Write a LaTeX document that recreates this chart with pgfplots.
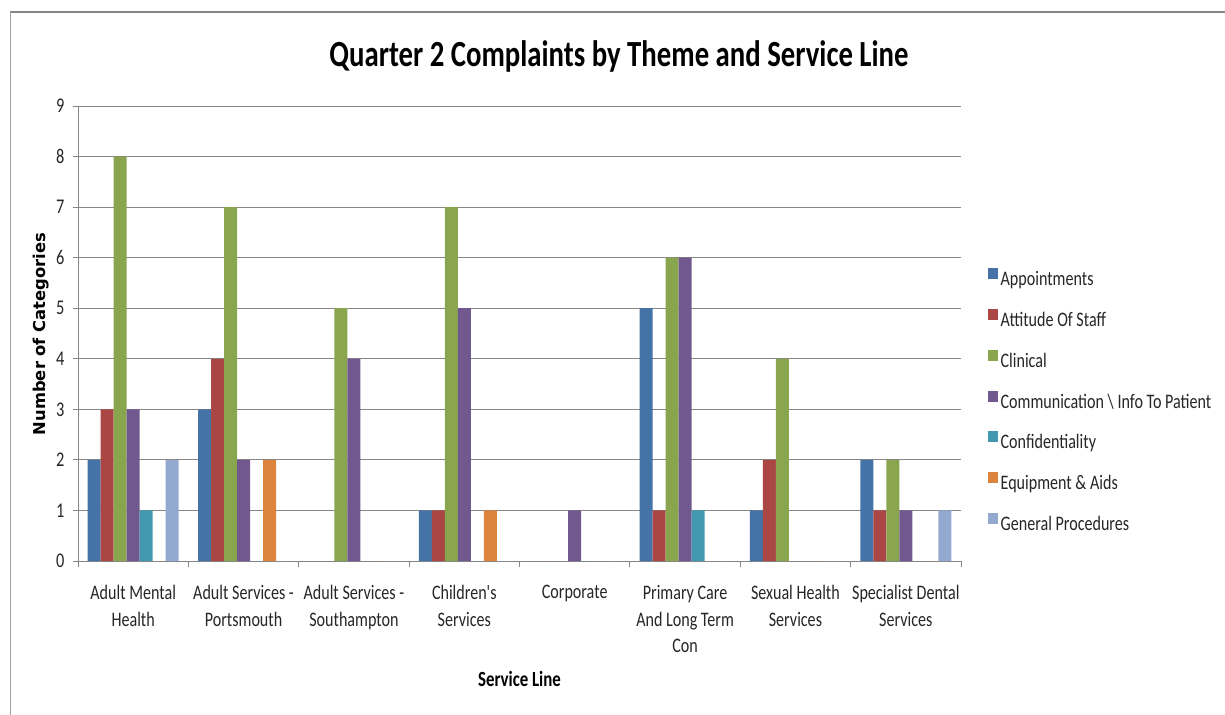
\documentclass[border=0pt]{standalone}
\usepackage{pgfplots}
\pgfplotsset{compat=1.18}
\usepackage{pgfplotstable}
\usepackage{fontspec}
\setmainfont{Carlito}
\newfontfamily\calfont[FakeStretch=0.78]{Carlito}
\newfontfamily\dvsfont{DejaVu Sans}
\definecolor{cA}{HTML}{4572A7}
\definecolor{cB}{HTML}{AA4643}
\definecolor{cC}{HTML}{89A54E}
\definecolor{cD}{HTML}{71588F}
\definecolor{cE}{HTML}{4198AF}
\definecolor{cF}{HTML}{DB843D}
\definecolor{cG}{HTML}{93A9CF}
\definecolor{gridc}{HTML}{868686}
\definecolor{txt}{HTML}{262626}
\pgfplotstableread{
x App Att Cli Com Con Equ Gen
0 2 3 8 3 1 0 2
1 3 4 7 2 0 2 0
2 0 0 5 4 0 0 0
3 1 1 7 5 0 1 0
4 0 0 0 1 0 0 0
5 5 1 6 6 1 0 0
6 1 2 4 0 0 0 0
7 2 1 2 1 0 0 1
}\datatab
\begin{document}
\begin{tikzpicture}
\useasboundingbox (0,0) rectangle (1225bp,-715bp);
\draw[gridc, line width=1.8bp] (10bp,-12bp) -- (1240bp,-12bp);
\draw[gridc!80, line width=1.5bp] (10.7bp,-12bp) -- (10.7bp,-730bp);
\begin{axis}[
  at={(78bp,-561bp)}, anchor=south west,
  scale only axis, width=883bp, height=455bp,
  xmin=-0.5, xmax=7.5, ymin=0, ymax=9,
  ybar=0pt, bar width=0.1178,
  axis x line*=bottom, axis y line*=left,
  axis line style={gridc, line width=1bp, -},
  ymajorgrids, grid style={gridc, line width=1bp},
  ytick={0,...,9},
  xtick={0,...,7},
  xticklabels={Adult Mental\\Health, Adult Services -\\Portsmouth, Adult Services -\\Southampton, Children's\\Services, Corporate, Primary Care\\And Long Term\\Con, Sexual Health\\Services, Specialist Dental\\Services},
  minor xtick={-0.5,0.5,...,7.5},
  tick align=outside, major tick length=5bp, minor tick length=6bp,
  x tick style={draw=none},
  minor x tick style={draw=gridc, line width=1bp},
  y tick style={draw=gridc, line width=1bp},
  xticklabel style={font=\calfont\fontsize{20.7}{26.7}\selectfont, align=center, text=txt, yshift=-16bp},
  yticklabel style={font=\calfont\fontsize{21}{24}\selectfont, text=txt, xshift=-5bp},
  /pgf/number format/assume math mode=true,
  legend cell align=left,
  legend image code/.code={\fill[#1] (0bp,1.5bp) rectangle (10bp,12.5bp);},
  legend style={at={(1.0302,0.3497)}, anchor=west, draw=none, fill=none,
    inner sep=0pt, outer sep=0pt, row sep=18.3bp, column sep=3bp,
    font=\calfont\fontsize{20.7}{24}\selectfont, text=txt,
    nodes={inner sep=0pt, text height=15bp, text depth=5bp}},
]
\addplot[fill=cA, draw=none] table[x=x, y=App] {\datatab};
\addlegendentry{Appointments}
\addplot[fill=cB, draw=none] table[x=x, y=Att] {\datatab};
\addlegendentry{Attitude Of Staff}
\addplot[fill=cC, draw=none] table[x=x, y=Cli] {\datatab};
\addlegendentry{Clinical}
\addplot[fill=cD, draw=none] table[x=x, y=Com] {\datatab};
\addlegendentry{Communication \textbackslash{} Info To Patient}
\addplot[fill=cE, draw=none] table[x=x, y=Con] {\datatab};
\addlegendentry{Confidentiality}
\addplot[fill=cF, draw=none] table[x=x, y=Equ] {\datatab};
\addlegendentry{Equipment \& Aids}
\addplot[fill=cG, draw=none] table[x=x, y=Gen] {\datatab};
\addlegendentry{General Procedures}
\end{axis}
\node[anchor=base, font=\calfont\bfseries\fontsize{37}{40}\selectfont] at (619bp,-66bp) {Quarter 2 Complaints by Theme and Service Line};
\node[anchor=base, rotate=90, font=\dvsfont\bfseries\fontsize{16.4}{18}\selectfont] at (45bp,-334bp) {Number of Categories};
\node[anchor=base, font=\calfont\bfseries\fontsize{21.7}{24}\selectfont] at (519.5bp,-686.7bp) {Service Line};
\end{tikzpicture}
\end{document}
